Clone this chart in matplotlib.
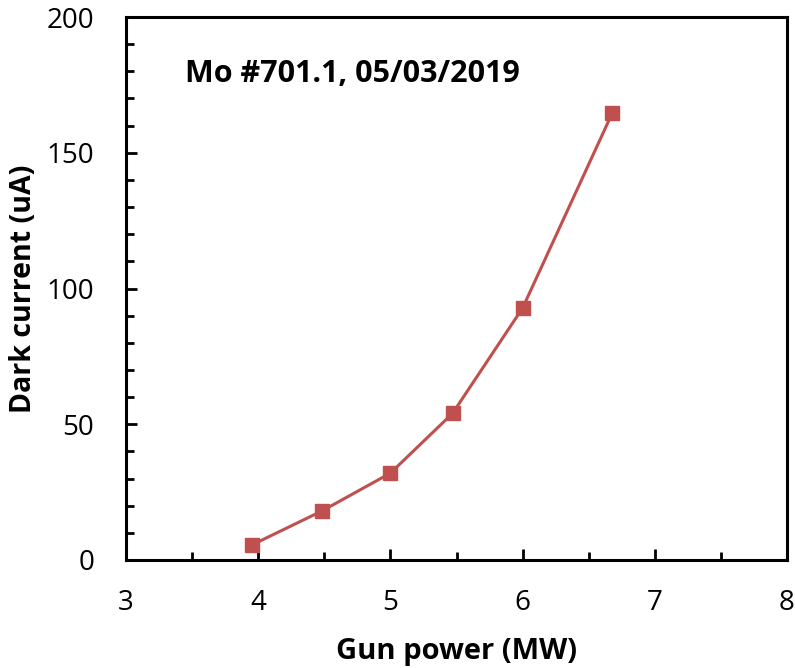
import matplotlib
matplotlib.use("Agg")
import matplotlib.pyplot as plt
from matplotlib.ticker import MultipleLocator

plt.rcParams['font.family'] = ['Open Sans', 'DejaVu Sans']

gun_power = [3.95, 4.48, 5.0, 5.47, 6.0, 6.68]
dark_current = [5.5, 18.0, 32.0, 54.0, 92.8, 164.8]
annotation = "Mo #701.1, 05/03/2019"

fig = plt.figure(figsize=(7.95, 6.68), dpi=100)
ax = fig.add_axes([126/795, 1-560/668, (787-126)/795, (560-17)/668])

color = '#C0504D'
ax.plot(gun_power, dark_current, color=color, lw=2.2, marker='s', ms=10,
        mfc=color, mec=color)

ax.set_xlim(3, 8)
ax.set_ylim(0, 200)
ax.xaxis.set_major_locator(MultipleLocator(1))
ax.xaxis.set_minor_locator(MultipleLocator(0.5))
ax.yaxis.set_major_locator(MultipleLocator(50))
ax.yaxis.set_minor_locator(MultipleLocator(10))

for s in ax.spines.values():
    s.set_linewidth(2.2)
    s.set_color('black')

ax.tick_params(which='both', direction='in', width=2, colors='black',
               labelsize=20, top=False, right=False)
ax.tick_params(which='major', length=8)
ax.tick_params(which='minor', length=6)
ax.tick_params(axis='x', which='major', pad=21)
ax.tick_params(axis='y', which='major', pad=23)

ax.set_xlabel('Gun power (MW)', fontsize=21, fontweight='bold', labelpad=14)
ax.set_ylabel('Dark current (uA)', fontsize=20.5, fontweight='bold', labelpad=6)

ax.text(3.45, 179, annotation, fontsize=22, fontweight='bold', va='center', ha='left')

fig.savefig('out.png', dpi=100)
